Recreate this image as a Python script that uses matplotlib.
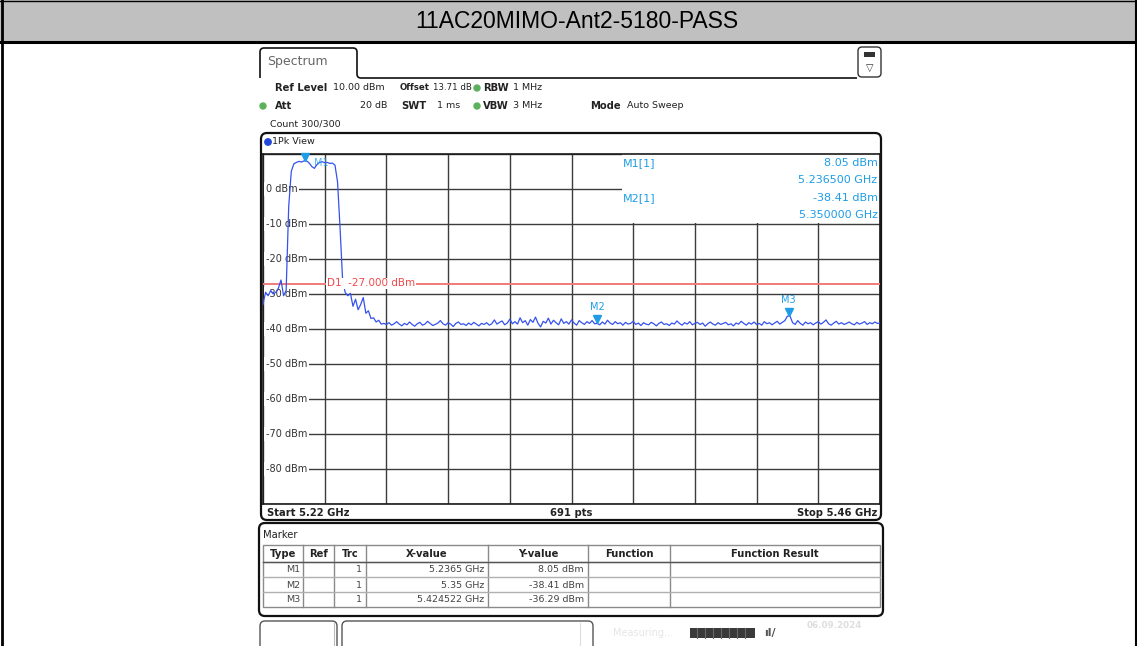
import numpy as np
import matplotlib
matplotlib.use("Agg")
import matplotlib.pyplot as plt
from matplotlib import transforms
from matplotlib.patches import Rectangle, FancyBboxPatch, Circle, PathPatch
from matplotlib.path import Path

W, H = 1137, 646
TITLE = "11AC20MIMO-Ant2-5180-PASS"
UI_FONT = "DejaVu Sans"

# sweep setup
start_ghz, stop_ghz = 5.22, 5.46
sweep_points = 691
ref_level_dbm = 10.0
bottom_dbm = -90.0
display_line_dbm = -27.0
level_labels_dbm = [0, -10, -20, -30, -40, -50, -60, -70, -80]

# trace 1 (max peak), read at 1 MHz steps from 5.220 GHz
trace_dbm = [
    -33.0, -29.5, -30.5, -29.0, -30.0, -29.5, -28.3, -26.0, -30.5, -29.0,
    -5.0, 5.0, 7.2, 7.6, 7.9, 7.7, 8.05, 8.0, 7.4, 6.4,
    5.9, 7.0, 7.6, 7.8, 7.5, 7.6, 7.3, 7.4, 6.8, 2.0,
    -11.5, -26.5, -29.6, -30.5, -29.8, -33.5, -31.5, -34.5, -33.0, -31.0,
    -35.5, -34.8, -37.0, -36.8, -38.0, -37.5, -38.6, -38.4, -38.7,
    -38.2, -38.9, -38.5, -37.9, -38.6, -39.1, -38.4, -38.8, -38.0, -38.7, -39.2, -38.5,
    -38.1, -38.9, -38.6, -37.8, -38.4, -39.0, -38.7, -38.3, -37.6, -38.5, -38.9, -38.2,
    -38.6, -39.3, -38.4, -38.0, -38.7, -38.5, -39.0, -38.3, -38.8, -38.1, -38.6, -39.1,
    -38.4, -38.7, -38.2, -38.9, -38.5, -37.4, -38.6, -38.1, -37.7, -38.8, -38.3, -37.2,
    -38.5, -37.9, -38.6, -36.8, -38.2, -37.6, -38.9, -37.3, -38.1, -36.6, -38.4, -39.4,
    -37.8, -38.3, -36.9, -38.6, -37.5, -38.2, -38.8, -37.1, -38.4, -37.9, -38.6, -37.4,
    -38.3, -38.9, -37.6, -38.2, -38.7, -37.9, -38.4, -37.6, -38.5, -38.41, -38.8, -38.0,
    -38.6, -37.5, -38.3, -38.7, -37.9, -38.5, -38.2, -38.9, -38.1, -38.6, -38.4, -37.8,
    -38.7, -38.3, -39.0, -38.2, -38.6, -38.8, -38.1, -38.5, -39.1, -38.4, -38.0, -38.7,
    -38.5, -39.0, -38.3, -38.6, -37.7, -38.4, -38.9, -38.2, -38.6, -37.9, -38.8, -38.4,
    -38.1, -38.7, -38.3, -39.2, -38.5, -38.0, -38.6, -38.9, -38.2, -38.7, -38.4, -38.1,
    -38.8, -38.5, -39.1, -38.3, -38.6, -37.8, -38.4, -38.9, -38.2, -38.6, -38.0, -38.7,
    -38.4, -38.9, -37.9, -38.5, -38.2, -38.8, -38.3, -37.8, -38.6, -38.1, -37.6, -36.3,
    -36.3, -38.2, -38.7, -37.6, -38.4, -38.9, -38.0, -38.5, -38.2, -38.8, -38.3, -37.9,
    -38.6, -38.1, -37.4, -38.5, -38.9, -38.3, -37.8, -38.6, -38.2, -38.7, -38.4, -38.0,
    -38.5, -38.8, -38.1, -38.6, -38.3, -37.9, -38.7, -38.2, -38.5, -38.0, -38.4, -38.3,
]

marker_names = ["M1", "M2", "M3"]
marker_trc = [1, 1, 1]
marker_freq_ghz = [5.2365, 5.35, 5.424522]
marker_dbm = [8.05, -38.41, -36.29]

table_header = ["Type", "Ref", "Trc", "X-value", "Y-value", "Function", "Function Result"]

TRACE_BLUE = "#3552ee"
MARKER_BLUE = "#1e9de6"
LINE_RED = "#f27a7a"

fig = plt.figure(figsize=(W / 100, H / 100), dpi=100)
fig.patch.set_facecolor("white")

# full-size overlay in pixel units for the window chrome
ui = fig.add_axes([0, 0, 1, 1])
ui.set_xlim(0, W)
ui.set_ylim(H, 0)
ui.axis("off")


def txt(x, y, s, size=6.8, bold=False, color="#222222", ha="left", **kw):
    ui.text(x, y, s, fontsize=size, fontweight="bold" if bold else "normal",
            color=color, ha=ha, va="center", family=UI_FONT, **kw)


def rbox(x0, y0, x1, y1, r=6, lw=1.2, ec="#111111", fc="none", z=1):
    ui.add_patch(FancyBboxPatch((x0, y0), x1 - x0, y1 - y0,
                                boxstyle=f"round,pad=0,rounding_size={r}",
                                lw=lw, ec=ec, fc=fc, zorder=z))


# title band and outer border
ui.add_patch(Rectangle((0, 0), W, 42, fc="#c0c0c0", ec="none"))
ui.plot([0, W], [0.5, 0.5], color="black", lw=1)
ui.plot([0, W], [42, 42], color="black", lw=2.2)
ui.plot([1.5, 1.5], [0, H], color="black", lw=2)
ui.plot([W - 1.5, W - 1.5], [0, H], color="black", lw=1.5)
ui.text(W / 2 + 8, 22, TITLE, fontsize=16.5, family="Liberation Sans",
        ha="center", va="center", color="black")

# "Spectrum" tab
tab = Path([(260, 78), (260, 52), (260, 48), (264, 48), (353, 48), (357, 48),
            (357, 52), (357, 74), (357, 78), (361, 78), (857, 78)],
           [Path.MOVETO, Path.LINETO, Path.CURVE3, Path.CURVE3, Path.LINETO,
            Path.CURVE3, Path.CURVE3, Path.LINETO, Path.CURVE3, Path.CURVE3,
            Path.LINETO])
ui.add_patch(PathPatch(tab, fc="none", ec="#111111", lw=1.2))
txt(267, 62, "Spectrum", size=9, color="#666666")
rbox(858, 47, 881, 77, r=4, lw=1.0, ec="#333333")
ui.add_patch(Rectangle((864, 52), 11, 5, fc="#333333", ec="none"))
txt(869.5, 68, "\u25bd", size=7, color="#333333", ha="center")

# setting summary
txt(275, 88, "Ref Level", bold=True, size=7.2)
txt(333, 88, f"{ref_level_dbm:.2f} dBm")
txt(400, 88, "Offset", bold=True, size=6.2)
txt(472, 88, "13.71 dB", ha="right", size=6.2)
ui.add_patch(Circle((477, 88), 3, color="#5cb25c"))
txt(483, 88, "RBW", bold=True, size=7.2)
txt(513, 88, "1 MHz")
ui.add_patch(Circle((263, 106), 3, color="#5cb25c"))
txt(275, 106, "Att", bold=True, size=7.2)
txt(387, 106, "20 dB", ha="right")
txt(401, 106, "SWT", bold=True, size=7.2)
txt(460, 106, "1 ms", ha="right")
ui.add_patch(Circle((477, 106), 3, color="#5cb25c"))
txt(483, 106, "VBW", bold=True, size=7.2)
txt(513, 106, "3 MHz")
txt(590, 106, "Mode", bold=True, size=7.2)
txt(627, 106, "Auto Sweep")
txt(270, 124, "Count 300/300")

# diagram frame
rbox(261, 133, 881, 520, r=6, lw=1.6)
ui.add_patch(Circle((268, 142), 3.2, color="#2346d8"))
txt(272, 142, "1Pk View")
txt(267, 513, f"Start {start_ghz:g} GHz", bold=True, size=7.2)
txt(571, 513, f"{sweep_points} pts", bold=True, size=7.2, ha="center")
txt(877, 513, f"Stop {stop_ghz:g} GHz", bold=True, size=7.2, ha="right")

# trace diagram
ax = fig.add_axes([263 / W, 1 - 504 / H, 617 / W, 350 / H], zorder=2)
ax.set_facecolor("white")
ax.set_xlim(start_ghz, stop_ghz)
ax.set_ylim(bottom_dbm, ref_level_dbm)
ax.set_xticks(np.linspace(start_ghz, stop_ghz, 11))
ax.set_yticks(np.arange(bottom_dbm, ref_level_dbm + 1, 10))
ax.set_axisbelow(True)
ax.grid(True, color="#3c3c3c", lw=1.0)
ax.tick_params(length=0, labelbottom=False, labelleft=False)
for sp in ax.spines.values():
    sp.set_color("#1a1a1a")
    sp.set_linewidth(1.2)

for lvl in level_labels_dbm:
    ax.annotate(f"{lvl} dBm", xy=(0, lvl), xycoords=("axes fraction", "data"),
                xytext=(3, 0), textcoords="offset pixels", va="center", ha="left",
                fontsize=7, family=UI_FONT, color="#333333", zorder=2,
                bbox=dict(fc="white", ec="none", pad=1.2))

freq_ghz = np.linspace(start_ghz, stop_ghz, len(trace_dbm))
ax.plot(freq_ghz, trace_dbm, color=TRACE_BLUE, lw=0.9, zorder=4)

ax.axhline(display_line_dbm, color=LINE_RED, lw=1.4, zorder=3)
ax.annotate(f"D1  {display_line_dbm:.3f} dBm", xy=(0.104, display_line_dbm),
            xycoords=("axes fraction", "data"), va="center", ha="left",
            fontsize=7.5, family=UI_FONT, color="#f04a4a", zorder=5,
            bbox=dict(fc="white", ec="none", pad=0.6))

# marker readout box, upper right
ax.add_patch(Rectangle((0.582, 0.803), 0.418, 0.197, transform=ax.transAxes,
                       fc="white", ec="none", zorder=1.5))
for k, (name, f, v) in enumerate(zip(marker_names[:2], marker_freq_ghz[:2], marker_dbm[:2])):
    y0 = 0.974 - k * 0.1
    ax.text(0.584, y0, f"{name}[1]", transform=ax.transAxes, fontsize=8,
            family=UI_FONT, color=MARKER_BLUE, va="center", zorder=6)
    ax.text(0.996, y0, f"{v:.2f} dBm", transform=ax.transAxes, fontsize=8,
            family=UI_FONT, color=MARKER_BLUE, va="center", ha="right", zorder=6)
    ax.text(0.996, y0 - 0.049, f"{f:.6f} GHz", transform=ax.transAxes, fontsize=8,
            family=UI_FONT, color=MARKER_BLUE, va="center", ha="right", zorder=6)

# marker triangles sit just above their trace point
tri = transforms.offset_copy(ax.transData, fig=fig, x=0, y=4, units="dots")
ax.plot(marker_freq_ghz, marker_dbm, "v", ms=6, color=MARKER_BLUE,
        transform=tri, zorder=7, clip_on=False)
ax.annotate(marker_names[0], xy=(marker_freq_ghz[0], marker_dbm[0]),
            xytext=(9, -2), textcoords="offset pixels", va="center", ha="left",
            fontsize=7, family=UI_FONT, color=MARKER_BLUE, alpha=0.75, zorder=7)
for name, f, v in zip(marker_names[1:], marker_freq_ghz[1:], marker_dbm[1:]):
    ax.annotate(name, xy=(f, v), xytext=(0, 16), textcoords="offset pixels",
                va="center", ha="center", fontsize=7, family=UI_FONT,
                color=MARKER_BLUE, zorder=7)

# marker table
rbox(259, 523, 883, 616, r=6, lw=1.6)
txt(263, 535, "Marker", size=7.2)
cols = [263, 303, 334, 366, 488, 588, 670, 880]
rows = [545, 562, 577, 592, 607]
ui.add_patch(Rectangle((cols[0], rows[0]), cols[-1] - cols[0], rows[-1] - rows[0],
                       fc="none", ec="#8a8a8a", lw=1))
for x in cols[1:-1]:
    ui.plot([x, x], [rows[0], rows[-1]], color="#8a8a8a", lw=1)
for y in rows[1:-1]:
    ui.plot([cols[0], cols[-1]], [y, y], color="#b0b0b0", lw=1)
ui.plot([cols[0], cols[-1]], [rows[1], rows[1]], color="#555555", lw=1)
for k, head in enumerate(table_header):
    txt((cols[k] + cols[k + 1]) / 2, (rows[0] + rows[1]) / 2 + 0.5, head,
        bold=True, size=7.2, ha="center")
for r, (name, trc, f, v) in enumerate(zip(marker_names, marker_trc,
                                          marker_freq_ghz, marker_dbm)):
    yc = (rows[r + 1] + rows[r + 2]) / 2 + 0.5
    txt(cols[1] - 3, yc, name, ha="right", color="#444444")
    txt(cols[3] - 4, yc, str(trc), ha="right", color="#444444")
    txt(cols[4] - 4, yc, f"{f:.6f}".rstrip("0") + " GHz", ha="right", color="#444444")
    txt(cols[5] - 4, yc, f"{v:.2f} dBm", ha="right", color="#444444")

# status bar
rbox(260, 621, 337, 652, r=5, lw=1.0, ec="#555555")
ui.plot([334, 334], [623, 646], color="#bbbbbb", lw=0.8)
rbox(342, 621, 593, 652, r=5, lw=1.0, ec="#555555")
ui.plot([580, 580], [623, 646], color="#dddddd", lw=0.8)
txt(613, 633, "Measuring...", size=7, color="#e6e6e6")
ui.add_patch(Rectangle((690, 628), 65, 10, fc="#3a3a3a", ec="none"))
for x in np.arange(697, 752, 8):
    ui.plot([x, x], [628, 638], color="#6a6a6a", lw=0.8)
txt(770, 633, "\u0131l/", size=8, bold=True, color="#555555", ha="center")
txt(834, 625, "06.09.2024", size=6.3, bold=True, color="#dedede", ha="center")

fig.savefig("out.png", dpi=100, facecolor="white")
